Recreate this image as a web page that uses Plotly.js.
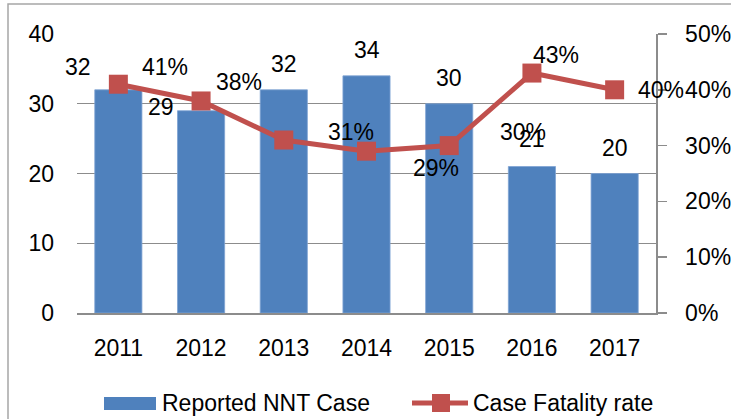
<!DOCTYPE html>
<html>
<head>
<meta charset="utf-8">
<script src="https://cdn.plot.ly/plotly-3.0.1.min.js"></script>
<style>html,body{margin:0;padding:0;background:#fff;}#chart{width:731px;height:419px;}</style>
</head>
<body>
<div id="chart"></div>
<script>
// ---- data ----
var years = ['2011', '2012', '2013', '2014', '2015', '2016', '2017'];
var reportedCases = [32, 29, 32, 34, 30, 21, 20];
var fatalityRate = [0.41, 0.38, 0.31, 0.29, 0.30, 0.43, 0.40];
var barSeriesName = 'Reported NNT Case';
var lineSeriesName = 'Case Fatality rate';

// label offsets (pixels) as placed in the original
var barLabelShift = [[-40, 23], [-40, 4], [0, 26], [0, 26], [0, 26], [0, 28], [0, 26]];
var lineLabelShift = [[47, 17], [38, 19], [67, 8], [69, -17], [74, 14], [24, 18], [46, 0]];

var FONT = 'Liberation Sans, Arial, sans-serif';
var FS = 23;
var BLUE = '#4F81BD';
var RED = '#C0504D';
var GRID = '#8c8c8c';

var traces = [
  {
    type: 'bar', x: years, y: reportedCases, name: barSeriesName,
    marker: {color: BLUE, line: {color: '#7fa3d3', width: 0.8}},
    hoverinfo: 'x+y', showlegend: false
  },
  {
    type: 'scatter', mode: 'lines+markers', x: years, y: fatalityRate, yaxis: 'y2',
    name: lineSeriesName,
    line: {color: RED, width: 5},
    marker: {symbol: 'square', size: 19, color: RED},
    showlegend: false
  }
];

var annotations = [];
years.forEach(function (yr, i) {
  annotations.push({
    x: i, y: reportedCases[i], xref: 'x', yref: 'y',
    text: String(reportedCases[i]), showarrow: false,
    xanchor: 'center', yanchor: 'middle',
    xshift: barLabelShift[i][0], yshift: barLabelShift[i][1],
    font: {family: FONT, size: FS, color: '#000'}
  });
  annotations.push({
    x: i, y: fatalityRate[i], xref: 'x', yref: 'y2',
    text: Math.round(fatalityRate[i] * 100) + '%', showarrow: false,
    xanchor: 'center', yanchor: 'middle',
    xshift: lineLabelShift[i][0], yshift: lineLabelShift[i][1],
    font: {family: FONT, size: FS, color: '#000'}
  });
});

// manual legend (plot area spans x 77..656, y 34..313 px)
function px(xp) { return (xp - 77) / 579; }
function py(yp) { return (313 - yp) / 279; }
annotations.push({
  xref: 'paper', yref: 'paper', x: px(160), y: py(403), xanchor: 'left', yanchor: 'middle',
  text: barSeriesName, showarrow: false, font: {family: FONT, size: FS, color: '#000'}
});
annotations.push({
  xref: 'paper', yref: 'paper', x: px(471), y: py(403), xanchor: 'left', yanchor: 'middle',
  text: lineSeriesName, showarrow: false, font: {family: FONT, size: FS, color: '#000'}
});

var shapes = [
  // outer chart border
  {type: 'rect', xref: 'paper', yref: 'paper', x0: px(8), x1: px(760), y0: py(440), y1: py(4),
   line: {color: '#a6a6a6', width: 1.5}, fillcolor: 'rgba(0,0,0,0)', layer: 'below'},
  // legend: bar swatch
  {type: 'rect', xref: 'paper', yref: 'paper', x0: px(104), x1: px(156), y0: py(410), y1: py(397),
   line: {width: 0}, fillcolor: BLUE},
  // legend: line + marker
  {type: 'line', xref: 'paper', yref: 'paper', x0: px(412), x1: px(468), y0: py(403), y1: py(403),
   line: {color: RED, width: 5}},
  {type: 'rect', xref: 'paper', yref: 'paper', x0: px(432), x1: px(450), y0: py(412), y1: py(394),
   line: {width: 0}, fillcolor: RED}
];

var layout = {
  width: 731, height: 419,
  margin: {l: 77, r: 75, t: 34, b: 106, pad: 0},
  paper_bgcolor: '#fff', plot_bgcolor: '#fff',
  font: {family: FONT, size: FS, color: '#000'},
  bargap: 0.43,
  showlegend: false,
  xaxis: {
    type: 'category', range: [-0.5, years.length - 0.5], autorange: false,
    showline: true, linecolor: GRID, linewidth: 2,
    ticks: '', showgrid: false, zeroline: false,
    tickfont: {family: FONT, size: FS, color: '#000'},
    ticklabelstandoff: 13
  },
  yaxis: {
    range: [0, 40], autorange: false, dtick: 10, tick0: 0, showline: false, zeroline: false,
    showgrid: true, gridcolor: GRID, gridwidth: 1.3,
    ticks: '', tickfont: {family: FONT, size: FS, color: '#000'},
    ticklabelstandoff: 22
  },
  yaxis2: {
    overlaying: 'y', side: 'right', range: [0, 0.5], autorange: false, dtick: 0.1, tick0: 0,
    tickformat: '.0%', showgrid: false, zeroline: false,
    showline: true, linecolor: GRID, linewidth: 1.5,
    ticks: 'outside', ticklen: 9, tickcolor: GRID, tickwidth: 1.5,
    tickfont: {family: FONT, size: FS, color: '#000'},
    ticklabelstandoff: 14
  },
  annotations: annotations,
  shapes: shapes
};

Plotly.newPlot('chart', traces, layout, {displayModeBar: false, staticPlot: true});
</script>
</body>
</html>
